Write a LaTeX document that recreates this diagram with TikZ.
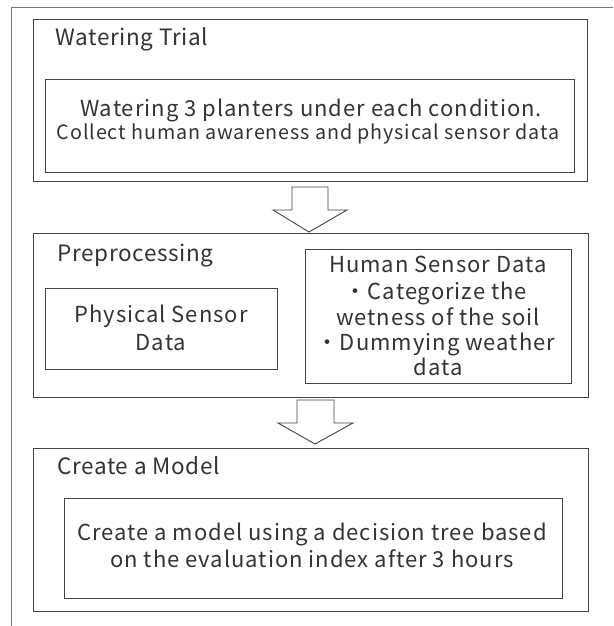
\documentclass[tikz,border=0pt]{standalone}
\usepackage{fontspec}
\setmainfont{Noto Sans CJK JP}[LetterSpace=4.5]
\newfontfamily\titlefont{Noto Sans CJK JP}[LetterSpace=3]
\definecolor{ink}{HTML}{333333}
\definecolor{edge}{HTML}{444444}
\definecolor{frame}{HTML}{777777}
\tikzset{
  box/.style={draw=edge, line width=0.9pt, inner sep=0pt, rectangle},
  title/.style={anchor=base west, inner sep=0pt, text=ink, font=\titlefont\fontsize{22.5}{26}\selectfont},
  body/.style={anchor=base, inner sep=0pt, text=ink, font=\fontsize{22}{26}\selectfont},
  small/.style={anchor=base, inner sep=0pt, text=ink, font=\fontsize{19.7}{23}\selectfont},
  bigarrow/.style={draw=edge, line width=0.9pt, fill=white, line join=miter}
}
\begin{document}
\begin{tikzpicture}[x=1pt, y=-1pt]
\useasboundingbox (0,0) rectangle (613,626);
% outer frame (top and left edges)
\coordinate (fbl) at (11,626);
\coordinate (ftl) at (11,7);
\coordinate (ftr) at (613,7);
\draw[frame, line width=0.9pt] (fbl) -- (ftl) -- (ftr);

% boxes
\node[box, minimum width=554pt, minimum height=162pt] (b1) at (310,100) {};
\node[box, minimum width=529pt, minimum height=93pt] (i1) at (309.5,125.5) {};
\node[box, minimum width=555pt, minimum height=164pt] (b2) at (310.5,315) {};
\node[box, minimum width=232pt, minimum height=81pt] (p) at (161,328.5) {};
\node[box, minimum width=266pt, minimum height=134pt] (h) at (438,316) {};
\node[box, minimum width=555pt, minimum height=163pt] (b3) at (310.5,529.5) {};
\node[box, minimum width=498pt, minimum height=100pt] (i3) at (313,548) {};

% titles
\node[title] (t1) at (55,46) {Watering Trial};
\node[title] (t2) at (57,261) {Preprocessing};
\node[title] (t3) at (57,474) {Create a Model};

% texts
\node[body] (x1a) at (311,116) {Watering 3 planters under each condition.};
\node[small] (x1b) at (308,139) {Collect human awareness and physical sensor data};
\node[body] (pa) at (161,322) {Physical Sensor};
\node[body] (pb) at (161,350) {Data};
\node[body] (ha) at (438,272) {Human Sensor Data};
\node[body] (hb) at (436,299) {・Categorize the};
\node[body] (hc) at (438,325) {wetness of the soil};
\node[body] (hd) at (436,350) {・Dummying weather};
\node[body] (he) at (438,375) {data};
\node[body] (ca) at (312,540) {Create a model using a decision tree based};
\node[body] (cb) at (312,567) {on the evaluation index after 3 hours};

% block arrows
\draw[bigarrow] (292,187) -- (328,187) -- (328,210) -- (347,210) -- (309,232) -- (273,210) -- (292,210) -- cycle;
\draw[bigarrow] (297,400) -- (334,400) -- (334,423) -- (353,423) -- (315,444) -- (278,423) -- (297,423) -- cycle;
\end{tikzpicture}
\end{document}
